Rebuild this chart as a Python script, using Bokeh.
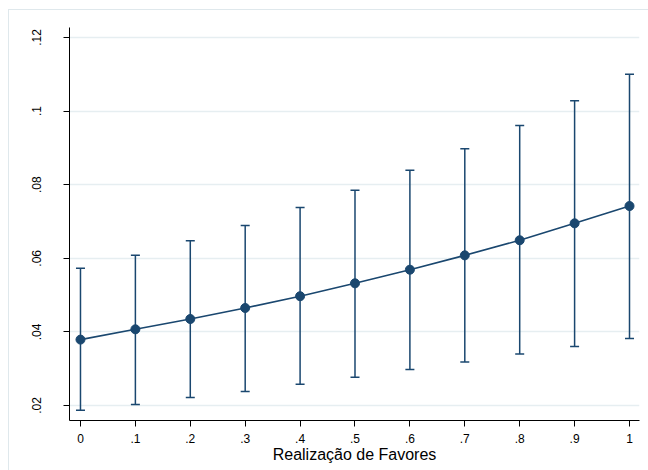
from bokeh.plotting import figure
from bokeh.models import ColumnDataSource, Whisker, TeeHead, FixedTicker
from bokeh.embed import file_html
from bokeh.resources import INLINE

# Predicted margins with 95% confidence intervals
favores = [0.0, 0.1, 0.2, 0.3, 0.4, 0.5, 0.6, 0.7, 0.8, 0.9, 1.0]
margem = [0.0379, 0.0407, 0.0435, 0.0465, 0.0497, 0.0532, 0.0569, 0.0608, 0.0649, 0.0695, 0.0742]
ic_inf = [0.0187, 0.0203, 0.0222, 0.0238, 0.0258, 0.0277, 0.0298, 0.0318, 0.0340, 0.0360, 0.0382]
ic_sup = [0.0573, 0.0608, 0.0648, 0.0689, 0.0738, 0.0785, 0.0839, 0.0898, 0.0961, 0.1028, 0.1100]

x_ticks = [0.0, 0.1, 0.2, 0.3, 0.4, 0.5, 0.6, 0.7, 0.8, 0.9, 1.0]
x_labels = ["0", ".1", ".2", ".3", ".4", ".5", ".6", ".7", ".8", ".9", "1"]
y_ticks = [0.02, 0.04, 0.06, 0.08, 0.10, 0.12]
y_labels = [".02", ".04", ".06", ".08", ".1", ".12"]

NAVY = "#1a476f"
GRID = "#e6eef1"
FONT = "Liberation Sans"

src = ColumnDataSource(dict(x=favores, y=margem, lo=ic_inf, hi=ic_sup))

p = figure(
    width=640, height=461,
    x_range=(-0.0200, 1.0182), y_range=(0.01592, 0.12272),
    output_backend="svg", toolbar_location=None,
    min_border_left=60, min_border_right=10, min_border_top=17, min_border_bottom=51,
)
p.margin = (9, 0, 0, 8)
p.styles = {"border-left": "1px solid #dfe8ec", "border-top": "1px solid #dfe8ec"}
p.outline_line_color = None
p.background_fill_color = "white"
p.border_fill_color = "white"

# axes
p.xaxis.ticker = FixedTicker(ticks=x_ticks)
p.xaxis.major_label_overrides = {t: l for t, l in zip(x_ticks, x_labels)}
p.yaxis.ticker = FixedTicker(ticks=y_ticks)
p.yaxis.major_label_overrides = {t: l for t, l in zip(y_ticks, y_labels)}
for ax in (p.xaxis, p.yaxis):
    ax.axis_line_color = "black"
    ax.axis_line_width = 1
    ax.major_tick_line_color = "black"
    ax.major_tick_out = 6
    ax.major_tick_in = 0
    ax.minor_tick_line_color = None
    ax.major_label_text_font = FONT
    ax.major_label_text_font_size = "12px"
    ax.major_label_text_color = "black"
p.yaxis.major_label_orientation = "vertical"
p.yaxis.major_label_standoff = 22
p.xaxis.major_label_standoff = 7
p.xaxis.axis_label = "Realização de Favores"
p.xaxis.axis_label_text_font = FONT
p.xaxis.axis_label_text_font_size = "16px"
p.xaxis.axis_label_text_font_style = "normal"
p.xaxis.axis_label_text_color = "black"
p.xaxis.axis_label_standoff = 0

p.xgrid.grid_line_color = None
p.ygrid.grid_line_color = GRID
p.ygrid.grid_line_width = 1.5

# confidence intervals
wh = Whisker(
    source=src, base="x", lower="lo", upper="hi",
    line_color=NAVY, line_width=1.5,
    upper_head=TeeHead(size=9, line_color=NAVY, line_width=1.5),
    lower_head=TeeHead(size=9, line_color=NAVY, line_width=1.5),
)
p.add_layout(wh)

# margins line and points
p.line("x", "y", source=src, line_color=NAVY, line_width=1.6)
p.scatter("x", "y", source=src, size=9, fill_color=NAVY, line_color=NAVY)

open("out.html", "w").write(file_html(p, INLINE))
